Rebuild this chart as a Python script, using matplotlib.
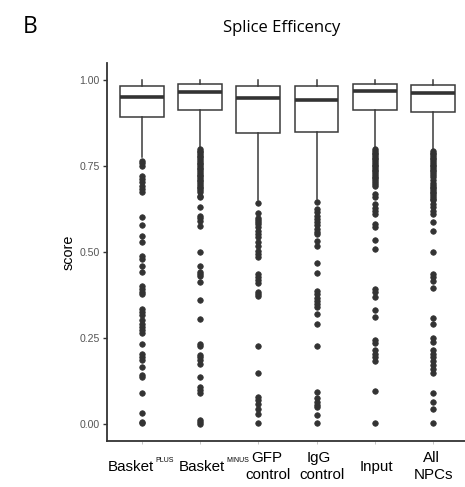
import matplotlib
matplotlib.use("Agg")
import matplotlib.pyplot as plt
import matplotlib.transforms as mtransforms

# ---------------- data ----------------
categories = ["BasketPLUS", "BasketMINUS", "GFP control", "IgG control", "Input", "All NPCs"]

q1 = [0.894, 0.914, 0.847, 0.850, 0.914, 0.906]
med = [0.951, 0.966, 0.947, 0.943, 0.969, 0.962]
q3 = [0.983, 0.989, 0.983, 0.983, 0.990, 0.985]
whislo = [0.775, 0.806, 0.652, 0.655, 0.803, 0.798]
whishi = [0.999, 1.000, 1.000, 1.000, 1.000, 1.000]

out_plus = [0.765, 0.758, 0.751, 0.722, 0.712, 0.702, 0.692, 0.683, 0.673, 0.603, 0.579,
            0.547, 0.528, 0.489, 0.480, 0.460, 0.441, 0.402, 0.393, 0.383, 0.378, 0.335,
            0.325, 0.315, 0.301, 0.291, 0.281, 0.272, 0.265, 0.231, 0.204, 0.194, 0.185,
            0.164, 0.141, 0.135, 0.088, 0.030, 0.006, 0.001]
out_minus = [0.799, 0.795, 0.790, 0.785, 0.780, 0.775, 0.770, 0.765, 0.760, 0.755, 0.750,
             0.745, 0.740, 0.735, 0.730, 0.725, 0.720, 0.715, 0.710, 0.705, 0.700, 0.695,
             0.690, 0.685, 0.680, 0.673, 0.663, 0.659, 0.630, 0.605, 0.600, 0.591, 0.574,
             0.499, 0.460, 0.441, 0.436, 0.431, 0.412, 0.359, 0.306, 0.233, 0.226, 0.199,
             0.193, 0.185, 0.175, 0.136, 0.107, 0.098, 0.088, 0.011, 0.004, 0.000]
out_gfp = [0.641, 0.612, 0.600, 0.594, 0.587, 0.581, 0.572, 0.562, 0.553, 0.543, 0.528,
           0.518, 0.504, 0.494, 0.484, 0.436, 0.426, 0.418, 0.409, 0.383, 0.378, 0.373,
           0.226, 0.149, 0.078, 0.068, 0.058, 0.044, 0.028, 0.001]
out_igg = [0.644, 0.625, 0.615, 0.605, 0.596, 0.587, 0.578, 0.568, 0.559, 0.552, 0.533,
           0.518, 0.467, 0.440, 0.386, 0.377, 0.367, 0.358, 0.348, 0.339, 0.318, 0.291,
           0.226, 0.093, 0.074, 0.064, 0.055, 0.049, 0.024, 0.001]
out_input = [0.799, 0.794, 0.789, 0.784, 0.779, 0.774, 0.769, 0.764, 0.759, 0.754, 0.749,
             0.744, 0.739, 0.734, 0.729, 0.724, 0.719, 0.714, 0.709, 0.704, 0.699, 0.692,
             0.668, 0.659, 0.639, 0.629, 0.620, 0.610, 0.581, 0.572, 0.535, 0.509, 0.393,
             0.383, 0.370, 0.330, 0.310, 0.245, 0.235, 0.214, 0.204, 0.193, 0.183, 0.096,
             0.001]
out_npc = [0.794, 0.789, 0.784, 0.779, 0.774, 0.769, 0.764, 0.759, 0.754, 0.749, 0.744,
           0.739, 0.734, 0.729, 0.724, 0.719, 0.710, 0.700, 0.695, 0.690, 0.685, 0.680,
           0.675, 0.670, 0.665, 0.660, 0.655, 0.650, 0.640, 0.630, 0.620, 0.610, 0.588,
           0.562, 0.499, 0.436, 0.426, 0.414, 0.395, 0.308, 0.291, 0.248, 0.238, 0.214,
           0.204, 0.193, 0.183, 0.172, 0.160, 0.148, 0.088, 0.064, 0.042, 0.001]
outliers = [out_plus, out_minus, out_gfp, out_igg, out_input, out_npc]

yticks = [0.00, 0.25, 0.50, 0.75, 1.00]
ytick_labels = ["0.00", "0.25", "0.50", "0.75", "1.00"]

# ---------------- figure ----------------
W, H = 465, 487
fig = plt.figure(figsize=(W / 100, H / 100), dpi=100)
ax_left, ax_right = 106.7, 468.2
ax_bottom, ax_top = 440.9, 62.9
ax = fig.add_axes([ax_left / W, 1 - ax_bottom / H, (ax_right - ax_left) / W, (ax_bottom - ax_top) / H])

stats = []
for i in range(len(categories)):
    stats.append(dict(med=med[i], q1=q1[i], q3=q3[i], whislo=whislo[i], whishi=whishi[i],
                      fliers=outliers[i]))

positions = list(range(1, len(categories) + 1))
edge = "#3a3a3a"
ax.bxp(stats, positions=positions, widths=0.75, showcaps=False, patch_artist=True,
       boxprops=dict(facecolor="white", edgecolor=edge, linewidth=1.1),
       medianprops=dict(color="#333333", linewidth=2.6, solid_capstyle="butt"),
       whiskerprops=dict(color=edge, linewidth=1.1),
       flierprops=dict(marker="o", markersize=4.0, markerfacecolor="#333333",
                       markeredgecolor="#333333", markeredgewidth=0.5, linestyle="none"))

ax.set_xlim(0.4, 6.6)
ax.set_ylim(-0.05, 1.05)
ax.set_yticks(yticks)
ax.set_yticklabels(ytick_labels, fontsize=7.6, color="#555555", family="Liberation Sans")
ax.set_xticks(positions)
ax.set_xticklabels([""] * len(positions))
ax.tick_params(axis="y", length=3, width=1.0, color="#333333", pad=2)
ax.tick_params(axis="x", length=2.5, width=0.6, color="#bbbbbb", pad=2)
for s in ["top", "right"]:
    ax.spines[s].set_visible(False)
for s in ["left", "bottom"]:
    ax.spines[s].set_color("#333333")
    ax.spines[s].set_linewidth(1.3)

ax.set_ylabel("score", fontsize=10.4, family="Liberation Sans", color="black", labelpad=3)

# x category labels
trans = mtransforms.blended_transform_factory(ax.transData, fig.transFigure)
lab_font = dict(family="Liberation Sans", fontsize=10.9, color="black")
sup_font = dict(family="Liberation Sans", fontsize=5.0, color="black")


def place(pos, text, off_px, y_px, ha="center", font=lab_font):
    t = mtransforms.offset_copy(trans, fig=fig, x=off_px * 0.72, y=0, units="points")
    ax.text(pos, 1 - y_px / H, text, transform=t, ha=ha, va="baseline", **font)


# Basket labels with superscripts
for pos, sup, off in [(1, "PLUS", 12.8), (2, "MINUS", 25.3)]:
    place(pos, "Basket", off, 470.7, ha="right")
    place(pos, sup, off + 0.6, 462.5, ha="left", font=sup_font)

# two-line and single-line labels
place(3, "GFP", 8.5, 461.7)
place(3, "control", 10.0, 479.0)
place(4, "IgG", 2.5, 461.7)
place(4, "control", 5.0, 479.0)
place(5, "Input", 2.0, 471.0)
place(6, "All", -2.0, 461.7)
place(6, "NPCs", 0.7, 479.0)

# title and panel letter
fig.text(282 / W, 1 - 28 / H, "Splice Efficency", ha="center", va="center",
         family="Open Sans", fontsize=12, color="black")
fig.text(23 / W, 1 - 33 / H, "B", ha="left", va="baseline", family="Open Sans",
         fontsize=16.5, color="black")

fig.savefig("out.png", dpi=100)
